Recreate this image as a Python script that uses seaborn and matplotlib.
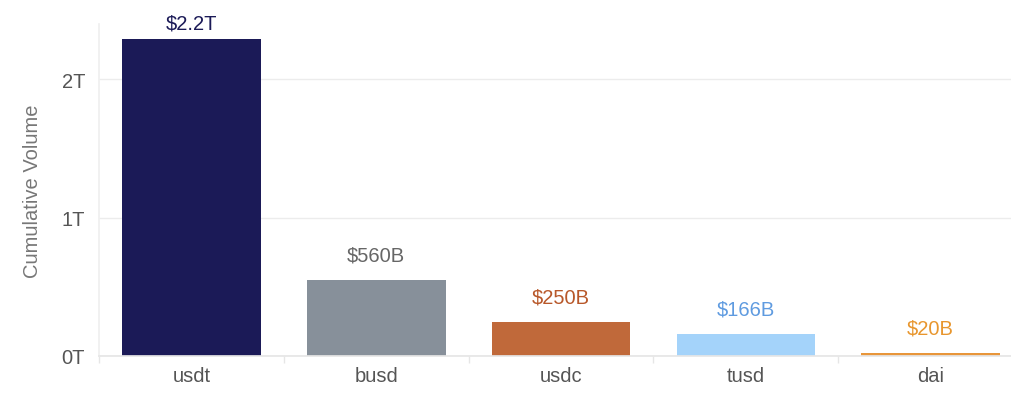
import matplotlib
matplotlib.use("Agg")
import matplotlib.pyplot as plt
import seaborn as sns
import pandas as pd
from matplotlib.ticker import FuncFormatter, FixedLocator

# ---- data ----
tokens = ["usdt", "busd", "usdc", "tusd", "dai"]
volumes = [2.29e12, 0.551e12, 0.245e12, 0.159e12, 0.02e12]
value_labels = ["$2.2T", "$560B", "$250B", "$166B", "$20B"]
bar_colors = ["#1b1a57", "#87909a", "#c0693a", "#a4d3fa", "#e8963a"]
label_colors = ["#1b1a57", "#666666", "#b8582a", "#5f9be0", "#e8962e"]
yticks = [0, 1e12, 2e12]

df = pd.DataFrame({"token": tokens, "volume": volumes})

sns.set_theme(style="white")
plt.rcParams["font.family"] = ["Liberation Sans", "DejaVu Sans"]

fig = plt.figure(figsize=(10.12, 4.02), dpi=100)
ax = fig.add_axes([99 / 1012, 45 / 402, (1012 - 99) / 1012, 332 / 402])

sns.barplot(data=df, x="token", y="volume", hue="token", palette=bar_colors,
            order=tokens, hue_order=tokens, width=0.75, legend=False, ax=ax,
            saturation=1, linewidth=0)

ax.yaxis.set_major_locator(FixedLocator(yticks))
ax.yaxis.set_major_formatter(FuncFormatter(lambda v, p: f"{v/1e12:.0f}T"))
ax.grid(axis="y", color="#ececec", linewidth=1)
ax.set_axisbelow(True)

for s in ["top", "right"]:
    ax.spines[s].set_visible(False)
ax.spines["left"].set_color("#f0f0f0")
ax.spines["bottom"].set_color("#e6e6e6")

ax.set_xlabel("")
ax.set_ylabel("Cumulative Volume", fontsize=14.5, color="#777777", labelpad=14)
ax.tick_params(axis="x", labelsize=14.5, labelcolor="#555555", length=0, pad=7)
ax.tick_params(axis="y", labelsize=14.5, labelcolor="#555555", length=0, pad=10)
ax.set_xticks(range(len(tokens)), minor=False)
ax.set_xticks([i - 0.5 for i in range(len(tokens) + 1)], minor=True)
ax.tick_params(axis="x", which="minor", length=5, color="#e6e6e6", bottom=True)

ax.set_ylim(0, 2.4e12)
ax.set_xlim(-0.5, 4.44)

for i, (v, lab, c) in enumerate(zip(volumes, value_labels, label_colors)):
    off = 11.5 if i == 0 else 18
    ax.annotate(lab, xy=(i, v), xytext=(0, off), textcoords="offset points",
                ha="center", va="center", fontsize=14.5, color=c, annotation_clip=False)

fig.savefig("out.png", dpi=100)
